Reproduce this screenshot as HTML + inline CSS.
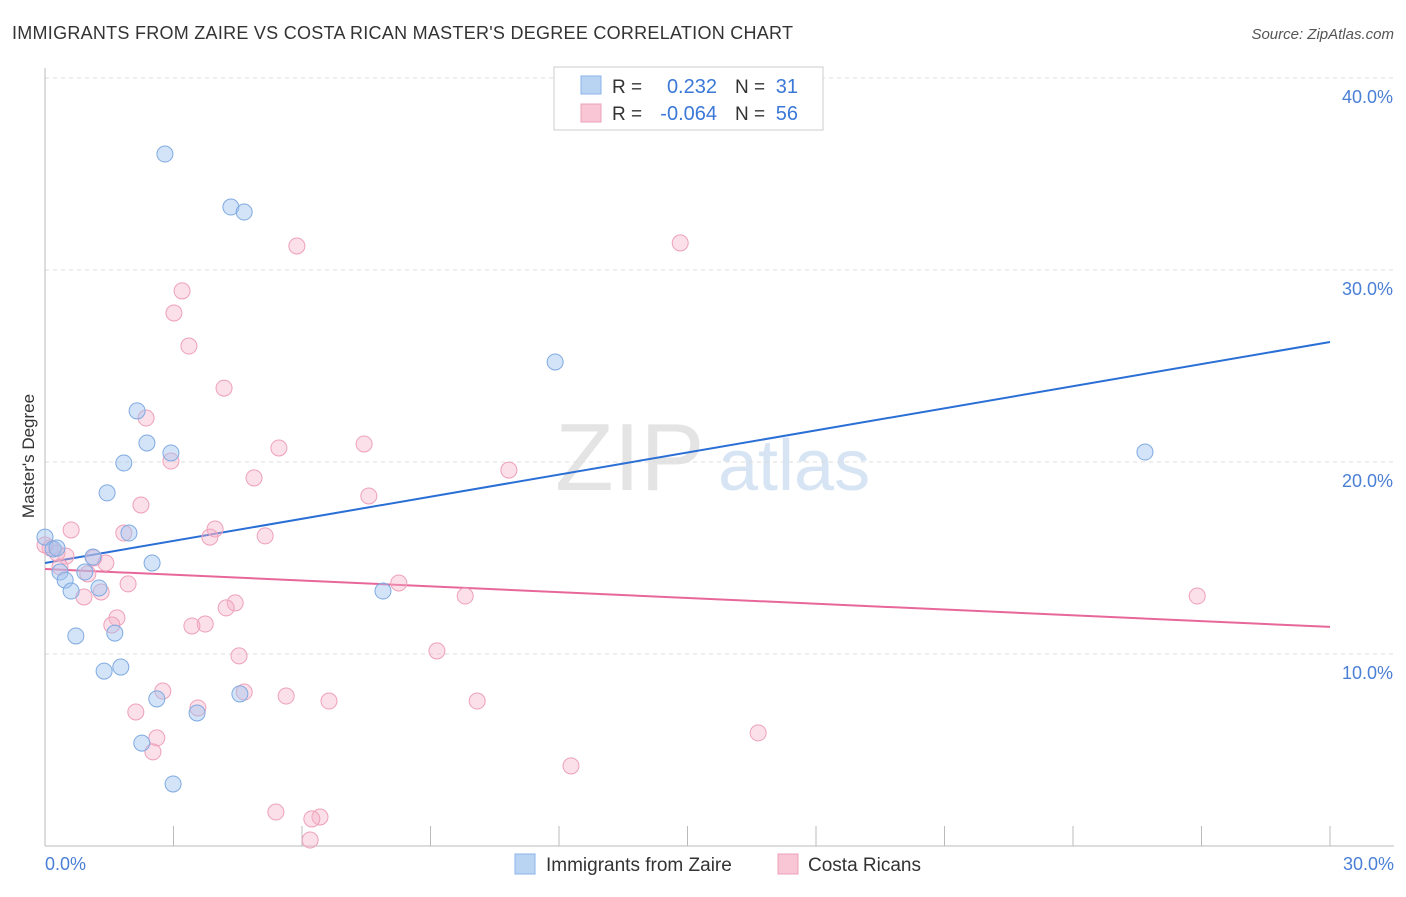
<!DOCTYPE html>
<html><head><meta charset="utf-8"><style>
body{margin:0;background:#fff;font-family:"Liberation Sans",sans-serif;}
svg text{font-family:"Liberation Sans",sans-serif;}
</style></head><body>
<svg id="chart" width="1406" height="892" xmlns="http://www.w3.org/2000/svg">
<text x="12" y="39" font-size="18" fill="#333" textLength="781" lengthAdjust="spacing">IMMIGRANTS FROM ZAIRE VS COSTA RICAN MASTER'S DEGREE CORRELATION CHART</text>
<text x="1394" y="39" font-size="15" fill="#555" font-style="italic" text-anchor="end">Source: ZipAtlas.com</text>
<g>
<text x="555" y="490" font-size="96" fill="#e4e4e4" font-family="Liberation Serif,serif">ZIP</text>
<text x="718" y="490" font-size="72" fill="#d6e4f4">atlas</text>
</g>
<g id="grid"></g>
<g id="axes"></g>
<g id="trends"></g>
<g id="points"></g>
<text transform="translate(34,456) rotate(-90)" font-size="17" fill="#333" text-anchor="middle">Master's Degree</text>
<text x="45" y="870" font-size="18" fill="#4a7fd6">0.0%</text>
<text x="1394" y="870" font-size="18" fill="#4a7fd6" text-anchor="end">30.0%</text>
<g>
<rect x="554" y="67" width="269" height="63" fill="#fff" stroke="#ccc"/>
<rect x="581" y="76" width="20" height="18" fill="#b9d3f3" stroke="#8ab4e8"/>
<rect x="581" y="104" width="20" height="18" fill="#f8c6d5" stroke="#eea0b8"/>
<text x="612" y="93" font-size="19" fill="#333">R =</text>
<text x="717" y="93" font-size="20" fill="#3b78d8" text-anchor="end">0.232</text>
<text x="735" y="93" font-size="19" fill="#333">N =</text>
<text x="798" y="93" font-size="20" fill="#3b78d8" text-anchor="end">31</text>
<text x="612" y="120" font-size="19" fill="#333">R =</text>
<text x="717" y="120" font-size="20" fill="#3b78d8" text-anchor="end">-0.064</text>
<text x="735" y="120" font-size="19" fill="#333">N =</text>
<text x="798" y="120" font-size="20" fill="#3b78d8" text-anchor="end">56</text>
</g>
<g>
<rect x="515" y="854" width="20" height="20" fill="#b9d3f3" stroke="#8ab4e8"/>
<text x="546" y="871" font-size="19" fill="#333">Immigrants from Zaire</text>
<rect x="778" y="854" width="20" height="20" fill="#f8c6d5" stroke="#eea0b8"/>
<text x="808" y="871" font-size="19" fill="#333">Costa Ricans</text>
</g>
</svg>
<script>
const yTicks=[10,20,30,40];
const yTickLabels=["10.0%","20.0%","30.0%","40.0%"];
const blueX=[2.80,4.34,4.65,11.91,25.68,2.15,2.38,2.94,1.84,1.45,1.96,0,0.19,1.12,2.50,0.35,0.93,0.47,1.26,0.61,7.89,0.72,1.63,1.77,1.38,4.55,2.61,3.55,2.26,2.99,0.28];
const blueY=[36.04,33.28,33.02,25.21,20.52,22.66,20.99,20.47,19.95,18.39,16.30,16.09,15.47,15.05,14.74,14.27,14.27,13.85,13.44,13.28,13.28,10.94,11.09,9.32,9.11,7.92,7.66,6.93,5.36,3.23,15.52];
const pinkX=[5.88,14.83,3.20,3.01,3.36,4.18,2.36,5.46,7.45,2.94,4.88,10.83,7.56,2.24,0.61,3.97,3.85,5.14,1.84,0.12,0.28,0.49,1.14,1.42,0.35,1.0,1.94,8.26,1.31,0.91,9.81,26.90,4.44,4.23,1.68,1.56,3.74,3.43,9.15,4.53,2.75,4.65,5.63,3.57,6.63,10.09,2.12,2.61,16.65,2.52,12.28,5.39,6.42,6.23,6.19,0];
const pinkY=[31.25,31.41,28.91,27.76,26.04,23.85,22.29,20.73,20.94,20.05,19.17,19.58,18.23,17.76,16.46,16.51,16.09,16.15,16.30,15.52,15.26,15.10,15.0,14.74,14.53,14.17,13.65,13.70,13.23,12.97,13.02,13.02,12.66,12.40,11.88,11.51,11.56,11.46,10.16,9.90,8.07,8.02,7.81,7.19,7.55,7.55,6.98,5.63,5.89,4.90,4.17,1.77,1.51,1.41,0.31,15.68];
const blueTrend=[14.74,26.25];
const pinkTrend=[14.43,11.41];
const trendX=[0,30];
const NS="http://www.w3.org/2000/svg";
const sx=v=>45+v*(1285/30);
const sy=v=>846-v*19.2;
function mk(tag,attrs,parent){const e=document.createElementNS(NS,tag);for(const k in attrs)e.setAttribute(k,attrs[k]);parent.appendChild(e);return e;}
const grid=document.getElementById('grid');
yTicks.forEach((t,i)=>{
  const l=mk('line',{x1:45,x2:1394,y1:sy(t),y2:sy(t),stroke:'#ddd','stroke-dasharray':'4,4'},grid);
  
  
  const tx=mk('text',{x:1393,y:sy(t)+25,'font-size':18,fill:'#4a7fd6','text-anchor':'end'},grid);
  tx.textContent=yTickLabels[i];
  
  
});
const axes=document.getElementById('axes');
const ya=mk('line',{x1:45,x2:45,y1:68,y2:846,stroke:'#bbb'},axes);


const xa=mk('line',{x1:45,x2:1394,y1:846,y2:846,stroke:'#bbb'},axes);


for(let i=0;i<=10;i++){const v=i*3;const t=mk('line',{x1:sx(v),x2:sx(v),y1:826,y2:846,stroke:'#bbb'},axes);
  
  }
const pts=document.getElementById('points');
pinkX.forEach((x,i)=>{const c=mk('circle',{cx:sx(x),cy:sy(pinkY[i]),r:8,fill:'rgba(246,178,200,0.4)',stroke:'#eea0b8','stroke-width':1},pts);
  
  });
blueX.forEach((x,i)=>{const c=mk('circle',{cx:sx(x),cy:sy(blueY[i]),r:8,fill:'rgba(160,196,240,0.45)',stroke:'#7faae2','stroke-width':1},pts);
  
  });
const tr=document.getElementById('trends');
const bl=mk('line',{x1:sx(trendX[0]),y1:sy(blueTrend[0]),x2:sx(trendX[1]),y2:sy(blueTrend[1]),stroke:'#2a6fd6','stroke-width':2},tr);


const pl=mk('line',{x1:sx(trendX[0]),y1:sy(pinkTrend[0]),x2:sx(trendX[1]),y2:sy(pinkTrend[1]),stroke:'#e8679a','stroke-width':2},tr);


</script>
</body></html>
